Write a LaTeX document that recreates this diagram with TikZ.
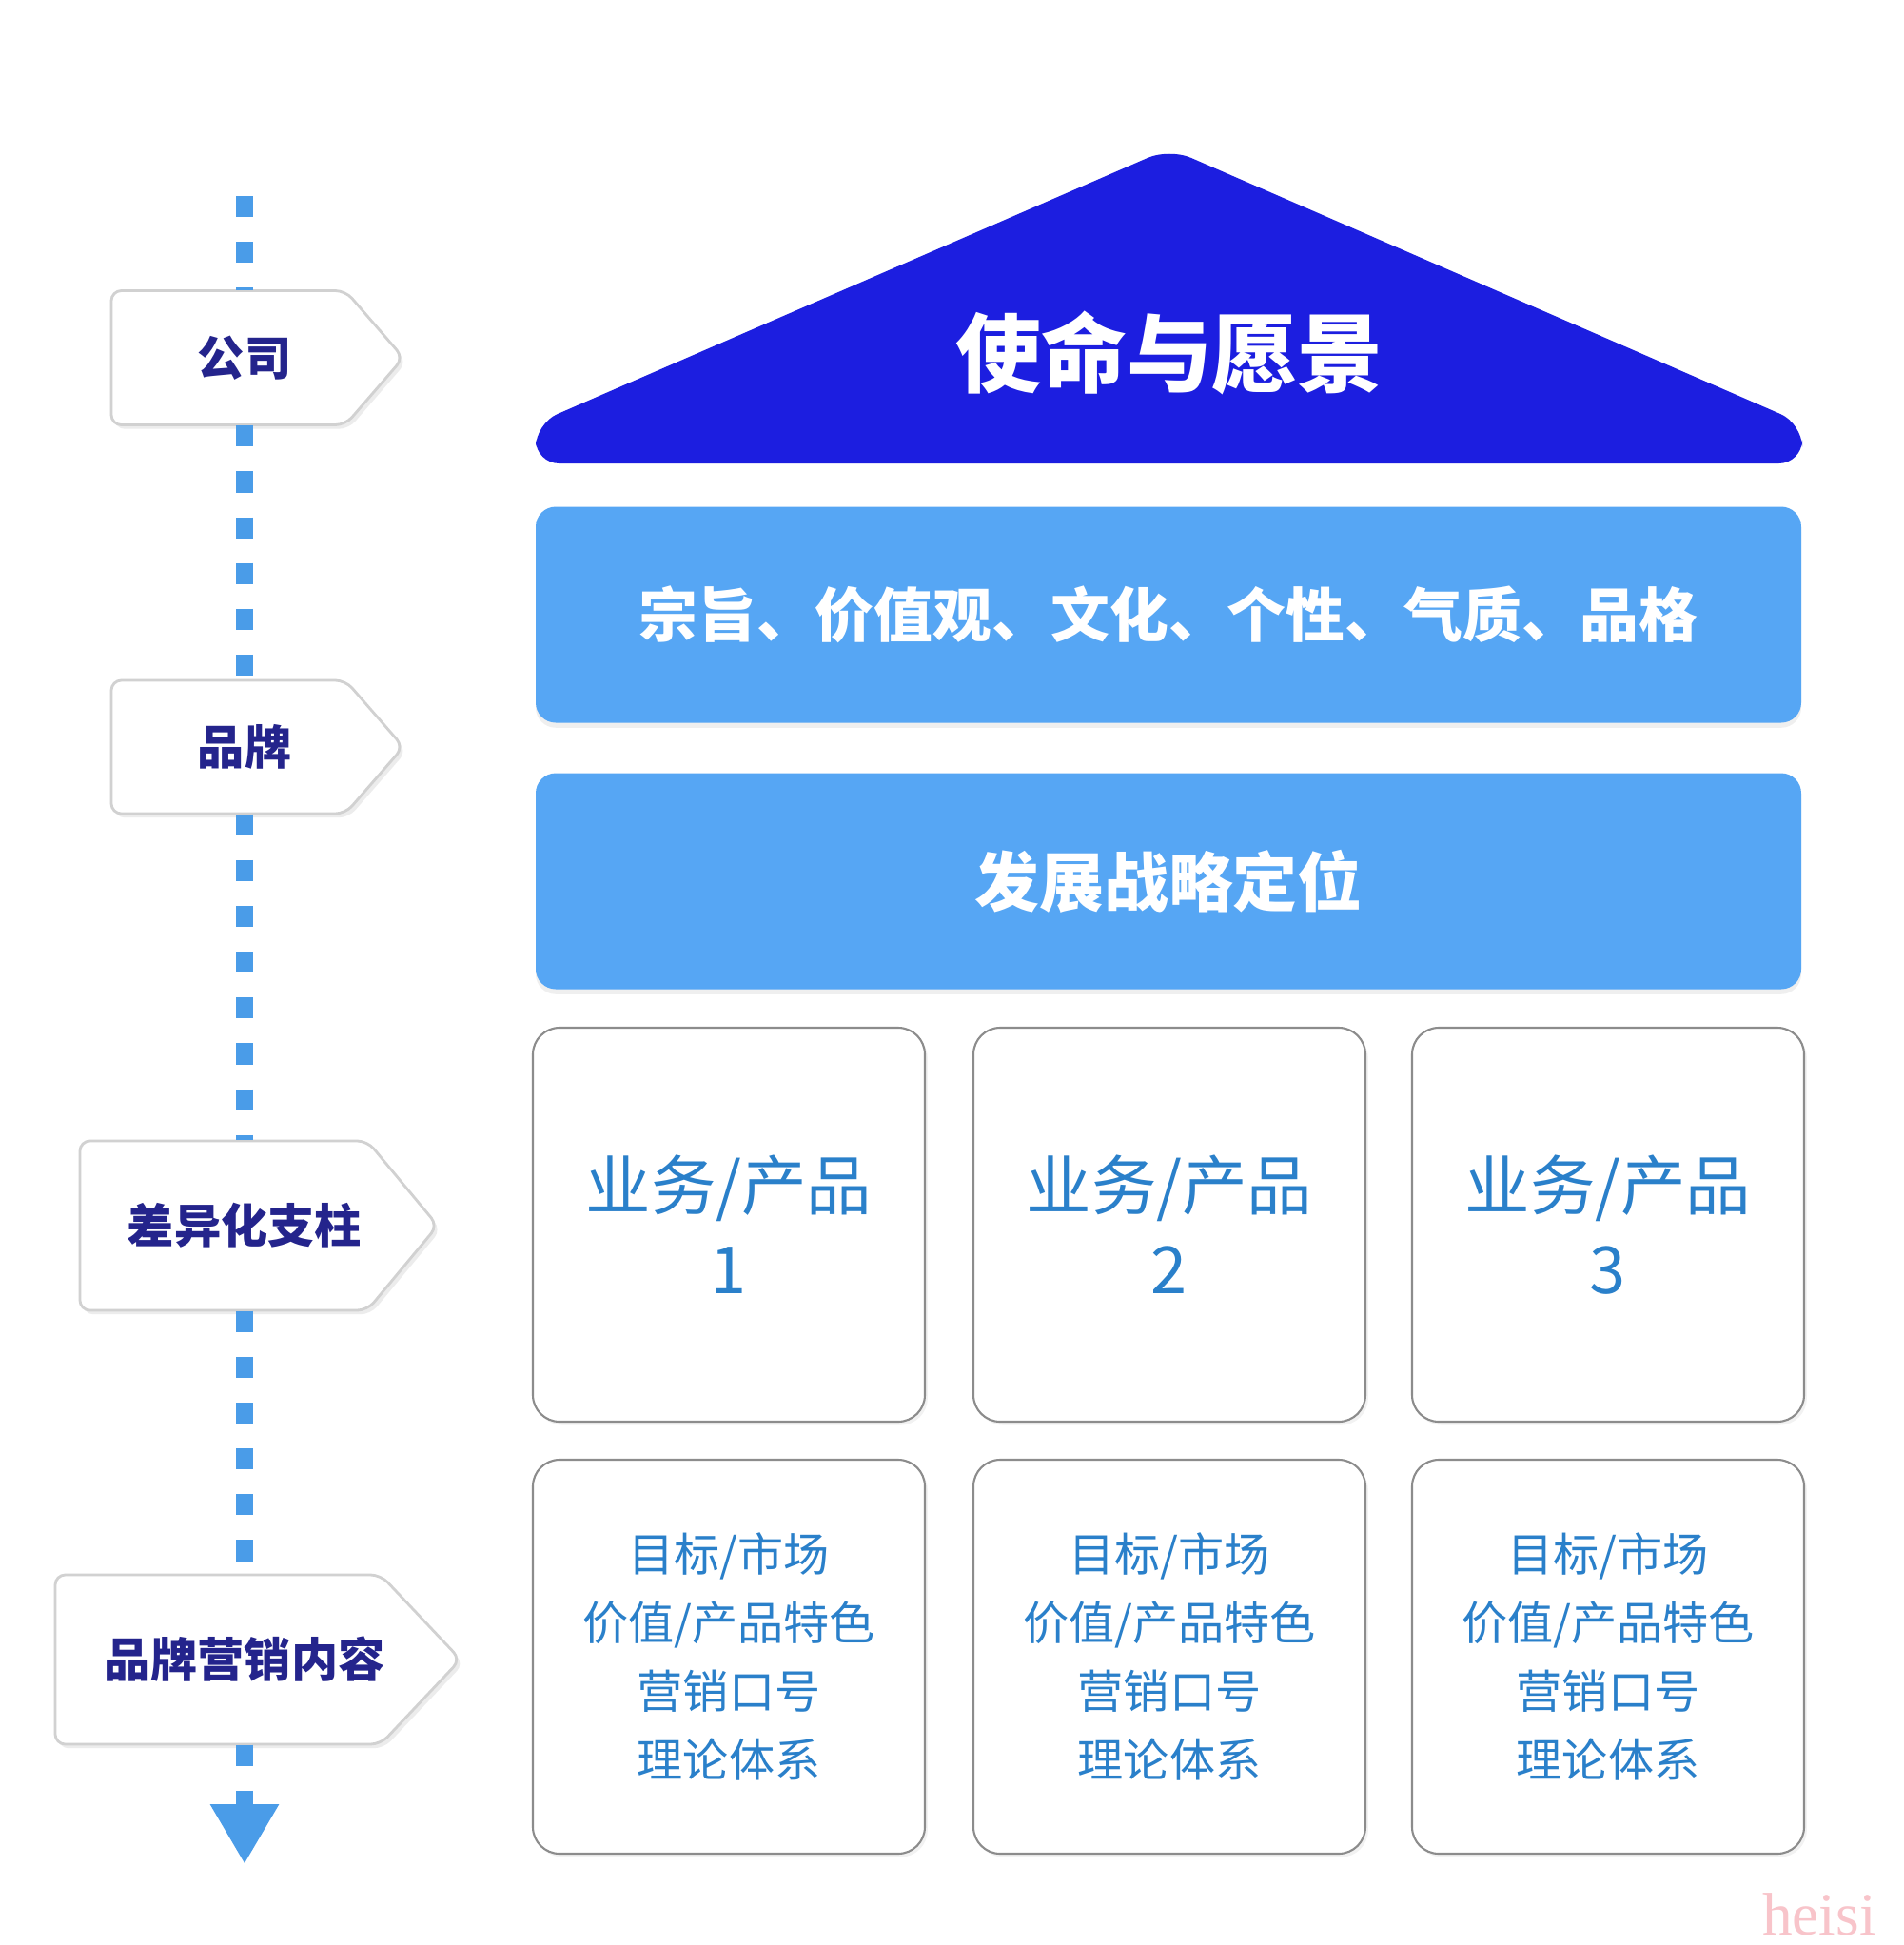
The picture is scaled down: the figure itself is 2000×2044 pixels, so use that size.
\documentclass[tikz,border=0pt]{standalone}
\usepackage{fontspec}
\setmainfont{Noto Sans CJK SC}
\newfontfamily\wmfont{Liberation Serif}
\usetikzlibrary{arrows.meta,shadows}

\definecolor{roofblue}{RGB}{28,30,224}
\definecolor{bandblue}{RGB}{86,166,244}
\definecolor{navy}{RGB}{36,36,140}
\definecolor{cardtext}{RGB}{42,128,202}
\definecolor{dashblue}{RGB}{74,156,232}
\definecolor{cardline}{RGB}{140,140,140}
\definecolor{wmpink}{RGB}{248,196,202}

\begin{document}
\begin{tikzpicture}[x=0.1mm, y=-0.1mm,
    band/.style={fill=bandblue, rounded corners=6pt, minimum width=133mm, minimum height=22.7mm,
      text=white, font=\bfseries\fontsize{17.6}{20}\selectfont,
      drop shadow={opacity=0.12, shadow xshift=0pt, shadow yshift=-1.5pt}},
    card/.style={draw=cardline, line width=0.6pt, fill=white, rounded corners=8pt,
      minimum width=41.2mm, minimum height=41.4mm, text=cardtext, align=center,
      drop shadow={opacity=0.10, shadow xshift=0.8pt, shadow yshift=-1pt}},
    signline/.style={draw=black!18, line width=0.8pt, fill=white, rounded corners=3pt,
      drop shadow={opacity=0.15, shadow xshift=1pt, shadow yshift=-1.2pt}},
    signtext/.style={inner sep=0pt, text=navy, font=\bfseries\fontsize{14}{16}\selectfont},
    trunk/.style={draw=dashblue, line width=5.4pt, dash pattern=on 6.3pt off 7.4pt}]
  \useasboundingbox (0,0) rectangle (2000,2044);
  \fill[white] (0,0) rectangle (2000,2044);

  % roof
  \fill[roofblue, rounded corners=7pt] (563,487) -- (563,445) -- (1229,156) -- (1894,445) -- (1894,487) -- cycle;
  \node[text=white, font=\bfseries\fontsize{25.6}{30}\selectfont] (mission) at (1229,371) {使命与愿景};

  % two bands
  \node[band] (values) at (1228,646) {宗旨、价值观、文化、个性、气质、品格};
  \node[band, font=\bfseries\fontsize{19.3}{22}\selectfont] (strategy) at (1228,926) {发展战略定位};

  % pillars and their content
  \foreach \i/\xc in {1/766, 2/1229, 3/1690} {
    \node[card, font=\fontsize{19.5}{25}\selectfont] (biz\i) at (\xc,1287) {业务/产品\\\i};
    \node[card, font=\fontsize{13.7}{20.5}\selectfont] (mkt\i) at (\xc,1741) {目标/市场\\价值/产品特色\\营销口号\\理论体系};
  }

  % signs on the left
  \foreach \nm/\yc/\h/\l/\r/\t/\txt in {
      s1/376/141/117/363/424/公司,
      s2/785/140/117/363/424/品牌,
      s3/1288/178/84/386/460/差异化支柱,
      s4/1744/178/58/400/484/品牌营销内容} {
    \draw[signline] (\l,\yc-\h/2) -- (\r,\yc-\h/2) -- (\t,\yc) -- (\r,\yc+\h/2) -- (\l,\yc+\h/2) -- cycle;
    \node[signtext, minimum height=\h*0.1mm] (\nm) at (257,\yc) {\txt};
  }

  % dashed trunk
  \coordinate (top) at (257,206);
  \coordinate (end) at (257,1959);
  \draw[trunk] (top) -- (s1);
  \draw[trunk] (s1) -- (s2);
  \draw[trunk] (s2) -- (s3);
  \draw[trunk] (s3) -- (s4);
  \draw[trunk, -{Triangle[width=19.3pt, length=17.9pt]}] (s4) -- (end);

  \node[text=wmpink, font=\wmfont\fontsize{18}{21}\selectfont] (mark) at (1912,2012) {heisi};
\end{tikzpicture}
\end{document}
